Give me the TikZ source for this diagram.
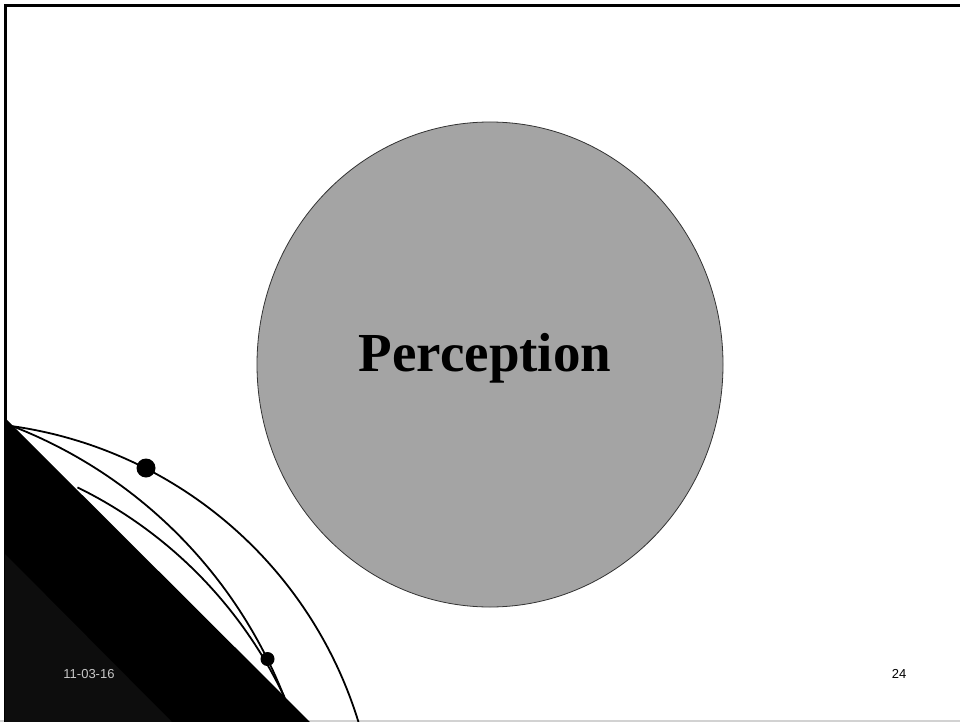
\documentclass[tikz,border=0pt]{standalone}
\usetikzlibrary{shapes.geometric}
\usepackage{fontspec}
\setmainfont{Liberation Serif}
\setsansfont{Liberation Sans}
\definecolor{circfill}{RGB}{164,164,164}
\definecolor{darktri}{RGB}{13,13,13}
\definecolor{datetext}{RGB}{200,200,200}
\begin{document}
\begin{tikzpicture}[x=1pt,y=-1pt,
  arcline/.style={line width=1.8pt, line join=round, samples=120},
  dotmark/.style={circle, fill=black, inner sep=0pt},
  footer/.style={font=\sffamily\fontsize{13}{13}\selectfont, inner sep=0pt}]
\useasboundingbox (0,0) rectangle (960,722);
\fill[white] (0,0) rectangle (960,722);
% bottom light line
\draw[gray!35, line width=1.2pt] (0,721) -- (960,721);
% frame
\draw[black, line width=2.6pt] (960,5.5) -- (5.5,5.5) -- (5.5,722);
% big circle
\node[ellipse, draw=black!80, line width=0.8pt, fill=circfill,
      minimum width=466pt, minimum height=485pt, inner sep=0pt] (circ) at (490,364.5) {};
\node[font=\bfseries\fontsize{55}{55}\selectfont, inner sep=0pt] (perc) at (485,358) {Perception};
% black triangle
\fill[black] (5,418) -- (310,722) -- (5,722) -- cycle;
\fill[darktri] (5,554) -- (172,722) -- (5,722) -- cycle;
% curves (arcs of large circles)
\draw[arcline] plot[domain=-82.7:-16.9] ({-47+424*cos(\x)},{846+424*sin(\x)});
\draw[arcline] plot[domain=-68.6:-21.4] ({-160.7+478*cos(\x)},{871.7+478*sin(\x)});
\draw[arcline] plot[domain=-63.9:-25.2] ({-118.7+446*cos(\x)},{887.9+446*sin(\x)});
% dots
\node[dotmark, minimum size=19pt] (d1) at (146,468) {};
\node[dotmark, minimum size=14pt] (d2) at (267.5,659) {};
% footers
\node[footer, text=datetext] (date) at (89,674) {11-03-16};
\node[footer, text=black] (pnum) at (899,674) {24};
\end{tikzpicture}
\end{document}
